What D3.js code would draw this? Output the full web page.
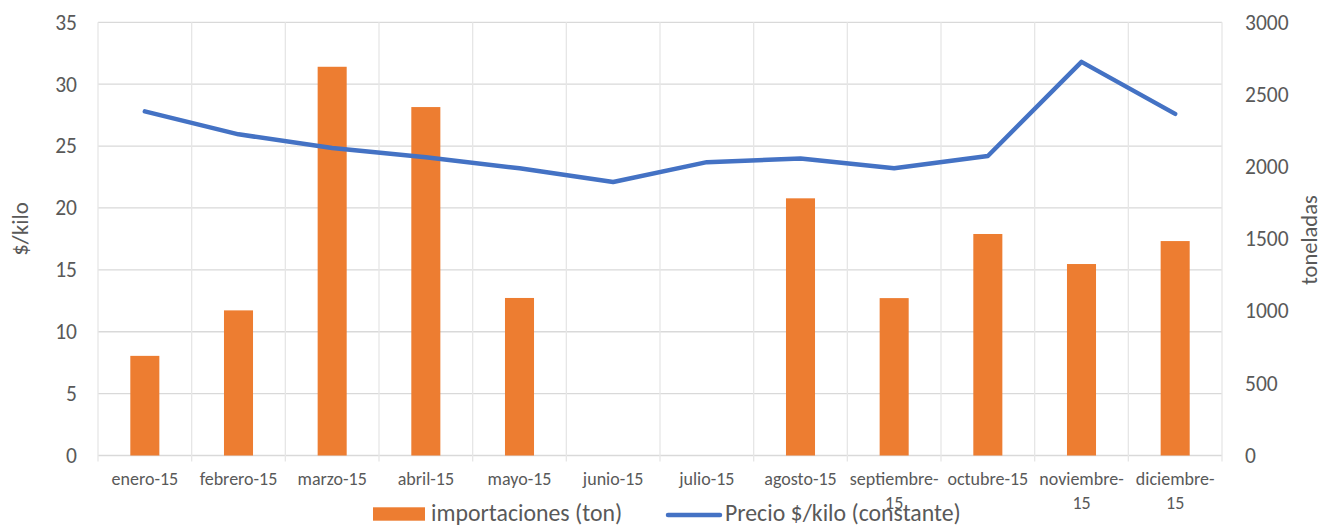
<!DOCTYPE html>
<html>
<head>
<meta charset="utf-8">
<script src="https://cdn.jsdelivr.net/npm/d3@7"></script>
<style>
  body { margin: 0; background: #fff; }
  svg { font-family: Carlito, Lato, "Liberation Sans", sans-serif; }
</style>
</head>
<body>
<div id="chart"></div>
<script>
// Imports (ton) vs. price ($/kilo, constant) for 2015

var months = ['enero-15', 'febrero-15', 'marzo-15', 'abril-15', 'mayo-15', 'junio-15',
    'julio-15', 'agosto-15', 'septiembre-15', 'octubre-15', 'noviembre-15', 'diciembre-15'];
var importaciones = [690, 1005, 2692, 2413, 1091, 0, 0, 1781, 1090, 1534, 1326, 1485];
var precio = [27.8, 25.95, 24.85, 24.1, 23.2, 22.1, 23.7, 24.0, 23.2, 24.2, 31.8, 27.6];
var leftTicks = [0, 5, 10, 15, 20, 25, 30, 35];
var rightTicks = [0, 500, 1000, 1500, 2000, 2500, 3000];

var COLORS = { bar: '#ED7D31', line: '#4472C4', grid: '#D9D9D9', text: '#595959' };

var width = 1323, height = 526;
var margin = { top: 22.3, right: 101, bottom: 70.5, left: 98 };

var svg = d3.select('#chart').append('svg')
    .attr('width', width)
    .attr('height', height);

var x = d3.scaleBand()
    .domain(months)
    .range([margin.left, width - margin.right])
    .paddingInner(0)
    .paddingOuter(0);

var yLeft = d3.scaleLinear().domain([0, 35]).range([height - margin.bottom, margin.top]);
var yRight = d3.scaleLinear().domain([0, 3000]).range([height - margin.bottom, margin.top]);

// gridlines
svg.append('g').selectAll('line.h')
    .data(leftTicks)
    .join('line')
    .attr('x1', margin.left).attr('x2', width - margin.right)
    .attr('y1', function(d) { return yLeft(d); })
    .attr('y2', function(d) { return yLeft(d); })
    .attr('stroke', COLORS.grid).attr('stroke-width', 1.3);

var vlines = d3.range(months.length + 1).map(function(i) {
    return i < months.length ? x(months[i]) : x(months[months.length - 1]) + x.bandwidth();
});
svg.append('g').selectAll('line.v')
    .data(vlines)
    .join('line')
    .attr('x1', function(d) { return d; }).attr('x2', function(d) { return d; })
    .attr('y1', margin.top).attr('y2', yLeft(0) + 6)
    .attr('stroke', '#E6E6E6')
    .attr('stroke-width', 1.3);

// bars (right axis)
var barW = x.bandwidth() * 0.31;
svg.append('g').selectAll('rect')
    .data(importaciones)
    .join('rect')
    .attr('x', function(d, i) { return x(months[i]) + (x.bandwidth() - barW) / 2; })
    .attr('y', function(d) { return yRight(d); })
    .attr('width', barW)
    .attr('height', function(d) { return yRight(0) - yRight(d); })
    .attr('fill', COLORS.bar);

// price line (left axis)
var line = d3.line()
    .x(function(d, i) { return x(months[i]) + x.bandwidth() / 2; })
    .y(function(d) { return yLeft(d); });

svg.append('path')
    .datum(precio)
    .attr('d', line)
    .attr('fill', 'none')
    .attr('stroke', COLORS.line)
    .attr('stroke-width', 4.5)
    .attr('stroke-linecap', 'round')
    .attr('stroke-linejoin', 'round');

// axes
var leftAxis = svg.append('g')
    .attr('transform', 'translate(' + margin.left + ',0)')
    .call(d3.axisLeft(yLeft).tickValues(leftTicks).tickSize(0).tickPadding(21));
var rightAxis = svg.append('g')
    .attr('transform', 'translate(' + (width - margin.right) + ',0)')
    .call(d3.axisRight(yRight).tickValues(rightTicks).tickFormat(d3.format('d')).tickSize(0).tickPadding(23));
[leftAxis, rightAxis].forEach(function(g) {
    g.select('.domain').remove();
    g.selectAll('text')
        .attr('fill', COLORS.text)
        .style('font-size', '21.5px')
        .style('font-family', 'Carlito, Lato, sans-serif');
});

var bottomAxis = svg.append('g')
    .attr('transform', 'translate(0,' + yLeft(0) + ')')
    .call(d3.axisBottom(x).tickSize(0).tickPadding(17));
bottomAxis.select('.domain').remove();
bottomAxis.selectAll('text')
    .attr('fill', COLORS.text)
    .style('font-size', '18px')
    .style('font-family', 'Carlito, Lato, sans-serif')
    .each(function(d) {
        // long month names wrap after the hyphen, as in the original
        var t = d3.select(this);
        if (d.length > 11) {
            var parts = d.split('-');
            t.text(null);
            t.append('tspan').attr('x', 0).attr('dy', '0.71em').text(parts[0] + '-');
            t.append('tspan').attr('x', 0).attr('dy', '1.3em').text(parts[1]);
            t.attr('dy', null);
        }
    });

// axis titles
svg.append('text')
    .attr('transform', 'translate(28,229) rotate(-90)')
    .attr('text-anchor', 'middle')
    .attr('fill', COLORS.text)
    .style('font-size', '23px')
    .text('$/kilo');

svg.append('text')
    .attr('transform', 'translate(1317,240) rotate(-90)')
    .attr('text-anchor', 'middle')
    .attr('fill', COLORS.text)
    .style('font-size', '22.5px')
    .text('toneladas');

// legend
var legend = svg.append('g');
legend.append('rect')
    .attr('x', 373).attr('y', 507.3).attr('width', 52).attr('height', 13.4)
    .attr('fill', COLORS.bar);
legend.append('text')
    .attr('x', 431).attr('y', 520.5)
    .attr('fill', COLORS.text).style('font-size', '23.8px')
    .text('importaciones (ton)');
legend.append('line')
    .attr('x1', 668).attr('x2', 720).attr('y1', 515).attr('y2', 515)
    .attr('stroke', COLORS.line).attr('stroke-width', 4.5).attr('stroke-linecap', 'round');
legend.append('text')
    .attr('x', 725).attr('y', 520.5)
    .attr('fill', COLORS.text).style('font-size', '23.8px')
    .text('Precio $/kilo (constante)');
</script>
</body>
</html>
